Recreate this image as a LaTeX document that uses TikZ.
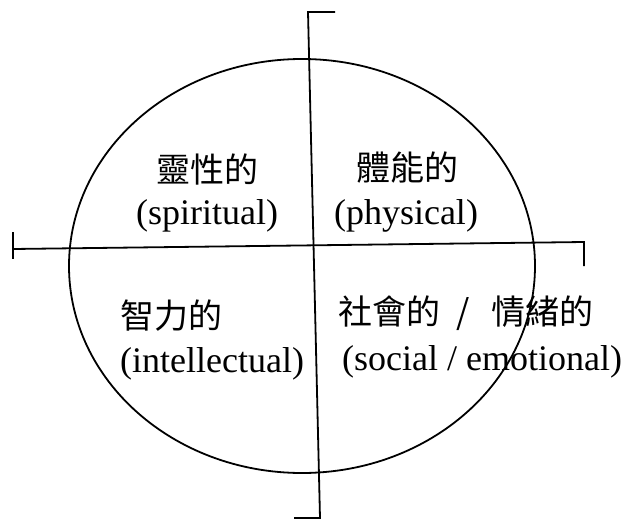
\documentclass[tikz,border=0pt]{standalone}
\usepackage{fontspec}
\usetikzlibrary{shapes.geometric}
\setmainfont{Liberation Serif}
\newfontfamily\cjk{Noto Sans CJK TC}
\begin{document}
\begin{tikzpicture}[x=1pt,y=-1pt,
  ln/.style={line width=1.8pt,black},
  lat/.style={font=\fontsize{36}{40}\selectfont, inner sep=0pt, anchor=base},
  zh/.style={font=\cjk\fontsize{34}{38}\selectfont, inner sep=0pt}]
\useasboundingbox (0,0) rectangle (624,522);
% ellipse
\node[draw, line width=1.8pt, ellipse, minimum width=466pt, minimum height=414pt, inner sep=0pt] (circ) at (302,266) {};
% vertical axis
\coordinate (vt) at (308,12);
\coordinate (vtr) at (335,12);
\coordinate (vb) at (320,518);
\coordinate (vbl) at (294,518);
\draw[ln] (vtr) -- (vt) -- (vb) -- (vbl);
% horizontal axis
\coordinate (hl) at (13,249);
\coordinate (hlt) at (13,232);
\coordinate (hlb) at (13,259);
\coordinate (hr) at (584,242);
\coordinate (hrb) at (584,266);
\draw[ln] (hlt) -- (hlb);
\draw[ln] (hl) -- (hr) -- (hrb);
% texts
\node[zh] (sp) at (207,169) {靈性的};
\node[lat] (spe) at (207,224) {(spiritual)};
\node[zh] (ph) at (407,168) {體能的};
\node[lat] (phe) at (406,224) {(physical)};
\node[zh, anchor=west] (in) at (120,316) {智力的};
\node[lat, anchor=base west] (ine) at (120,372) {(intellectual)};
\node[zh, anchor=west] (so) at (338,313) {社會的\hspace{16pt}/\hspace{22pt}情緒的};
\node[lat, anchor=base west] (soe) at (342,370) {(social / emotional)};
\end{tikzpicture}
\end{document}
